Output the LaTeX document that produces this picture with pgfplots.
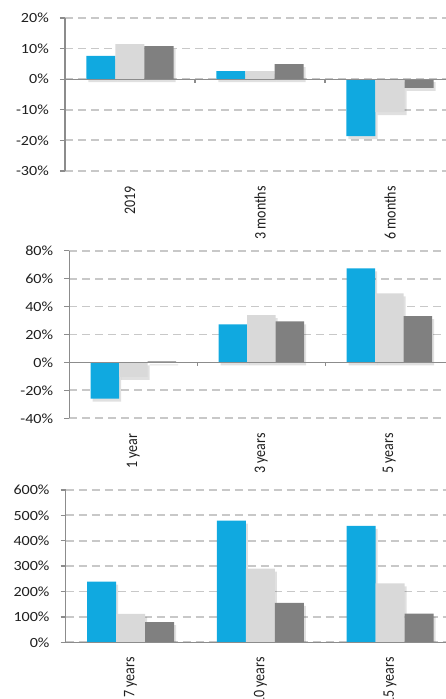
\documentclass[border=0pt]{standalone}
\usepackage{pgfplots}
\pgfplotsset{compat=1.18}
\usepackage{fontspec}
\setmainfont{Carlito}

\definecolor{barblue}{HTML}{10A9E0}
\definecolor{barlight}{HTML}{D9D9D9}
\definecolor{bardark}{HTML}{808080}
\definecolor{axisgrey}{HTML}{8C8C8C}
\definecolor{gridgrey}{HTML}{C8C8C8}
\definecolor{textcol}{HTML}{1F1F1F}

\newcommand\vs[1]{\scalebox{1}[1.15]{#1}}

\pgfplotsset{
  panel/.style={
    scale only axis,
    ybar=0pt,
    xmin=-0.5, xmax=2.5,
    axis y line*=left,
    axis x line*=bottom,
    x axis line style={draw=none},
    y axis line style={draw=axisgrey, line width=1.3pt, -},
    xtick={0,1,2},
    xtick style={draw=none},
    ytick style={draw=axisgrey, line width=1.3pt},
    tick align=outside,
    major tick length=5pt,
    ymajorgrids,
    grid style={gridgrey, line width=1.8pt, dash pattern=on 8pt off 5pt},
    xticklabel style={rotate=90, anchor=east, inner sep=0pt,
      font=\fontsize{14}{14}\selectfont, text=textcol},
    yticklabel style={anchor=east, inner sep=0pt,
      font=\fontsize{14}{14}\selectfont, text=textcol},
    yticklabel={\scalebox{1.15}[1]{\pgfmathprintnumber[assume math mode=true]{\tick}\%}},
    xticklabel shift=10pt,
    yticklabel shift=11pt,
  },
  shad/.style={preaction={fill=black, fill opacity=0.12,
      transform canvas={xshift=2pt, yshift=-3pt}}},
  bblue/.style={fill=barblue, draw=none, shad},
  blight/.style={fill=barlight, draw=none, shad},
  bdark/.style={fill=bardark, draw=none, shad},
}

\newcommand\zeroline{%
  \draw[axisgrey, line width=1.3pt] (axis cs:-0.5,0) -- (axis cs:2.5,0);
  \draw[axisgrey, line width=1.3pt] (axis cs:0.5,0) -- ([yshift=-4pt]axis cs:0.5,0);
  \draw[axisgrey, line width=1.3pt] (axis cs:1.5,0) -- ([yshift=-4pt]axis cs:1.5,0);
}

\begin{document}
\begin{tikzpicture}
\useasboundingbox (0,0) rectangle (445pt,699pt);

% top panel: 2019, 3 months, 6 months
\begin{axis}[panel, at={(65pt,528pt)}, anchor=south west,
  width=390pt, height=153pt, bar width=29pt,
  ymin=-30, ymax=20, ytick={-30,-20,...,20},
  xticklabels={\vs{2019},\vs{3 months},\vs{6 months}}]
\addplot[bblue] coordinates {(0,7.6) (1,2.6) (2,-18.6)};
\addplot[blight] coordinates {(0,11.5) (1,2.6) (2,-10.8)};
\addplot[bdark] coordinates {(0,10.8) (1,4.9) (2,-2.8)};
\zeroline
\end{axis}

% middle panel: 1, 3, 5 years
\begin{axis}[panel, at={(69.3pt,280.7pt)}, anchor=south west,
  width=384pt, height=167.6pt, bar width=28.5pt,
  ymin=-40, ymax=80, ytick={-40,-20,...,80},
  xticklabels={\vs{1 year},\vs{3 years},\vs{5 years}}]
\addplot[bblue] coordinates {(0,-26) (1,27.2) (2,67.3)};
\addplot[blight] coordinates {(0,-10.3) (1,33.9) (2,49.4)};
\addplot[bdark] coordinates {(0,0.7) (1,29.4) (2,33.2)};
\zeroline
\end{axis}

% bottom panel: 7, 10, 15 years
\begin{axis}[panel, at={(65.7pt,56.7pt)}, anchor=south west,
  width=389.3pt, height=152.3pt, bar width=29pt,
  ymin=0, ymax=600, ytick={0,100,...,600},
  xticklabels={\vs{7 years},\vs{10 years},\vs{15 years}}]
\addplot[bblue] coordinates {(0,239) (1,479) (2,459)};
\addplot[blight] coordinates {(0,111.5) (1,290) (2,232)};
\addplot[bdark] coordinates {(0,79) (1,155) (2,113)};
\zeroline
\end{axis}
\end{tikzpicture}
\end{document}
